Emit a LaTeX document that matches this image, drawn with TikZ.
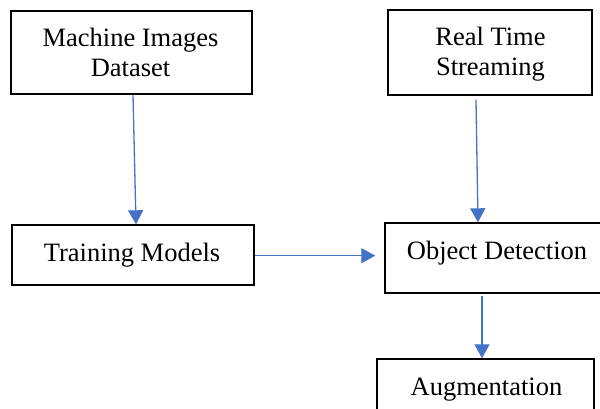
\documentclass[tikz,border=0pt]{standalone}
\usepackage{fontspec}
\setmainfont{Liberation Serif}
\usetikzlibrary{arrows.meta,calc}
\definecolor{arrowblue}{HTML}{4472C4}
\begin{document}
\begin{tikzpicture}[x=1pt,y=-1pt,
  boxstyle/.style={draw=black,line width=1.4pt,inner sep=0pt,rectangle},
  lbl/.style={font=\fontsize{26.5}{29.5}\selectfont,inner sep=0pt,anchor=base,align=center,text=black},
  conn/.style={draw=arrowblue,line width=1.3pt,-{Triangle[length=14pt,width=15pt]}}]
\useasboundingbox (0,0) rectangle (600,409);
% boxes
\node[boxstyle,minimum width=241,minimum height=83] (mid) at (131.5,52.5) {};
\node[boxstyle,minimum width=204,minimum height=85] (rts) at (490,52.5) {};
\node[boxstyle,minimum width=242,minimum height=60] (trm) at (133,255) {};
\node[boxstyle,minimum width=217,minimum height=70] (obd) at (493.5,258) {};
\node[boxstyle,minimum width=217,minimum height=70] (aug) at (485.5,394) {};
% texts
\node[lbl] (midt) at (130.5,76.5) {Machine Images\\Dataset};
\node[lbl] (rtst) at (490.5,75.5) {Real Time\\Streaming};
\node[lbl] (trmt) at (132,261) {Training Models};
\node[lbl] (obdt) at (497,259) {Object Detection};
\node[lbl] (augt) at (486.5,395) {Augmentation};
% connector end points
\coordinate (a3s) at ([yshift=-0.7]trm.east);
\coordinate (a3e) at ($(obd.west |- a3s)+(-9,0)$);
% connectors
\draw[conn] ([xshift=1.5]mid.south) -- ([xshift=3]trm.north);
\draw[conn] ([xshift=-14,yshift=-4]rts.south) -- ([xshift=-15.5]obd.north);
\draw[conn] (a3s) -- (a3e);
\draw[conn] ([xshift=-11.5,yshift=-2]obd.south) -- ([xshift=-3.5]aug.north);
\end{tikzpicture}
\end{document}
